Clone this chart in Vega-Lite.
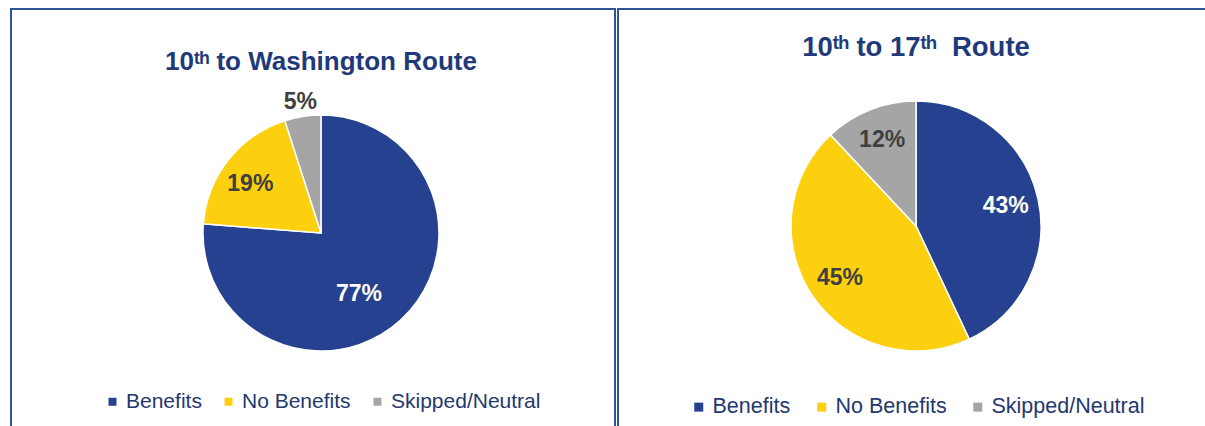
{
  "$schema": "https://vega.github.io/schema/vega-lite/v6.json",
  "background": "white",
  "padding": {"left": 10, "top": 8, "right": 0, "bottom": 0},
  "spacing": 1,
  "data": {"values": [
    {"route": "W", "cat": "Benefits", "share": 0.77},
    {"route": "W", "cat": "No Benefits", "share": 0.19},
    {"route": "W", "cat": "Skipped/Neutral", "share": 0.05},
    {"route": "S", "cat": "Benefits", "share": 0.43},
    {"route": "S", "cat": "No Benefits", "share": 0.45},
    {"route": "S", "cat": "Skipped/Neutral", "share": 0.12}
  ]},
  "config": {
    "view": {"stroke": "#2F5597", "strokeWidth": 2},
    "font": "Liberation Sans",
    "title": {"fontSize": 26, "font": "Liberation Sans", "fontWeight": "bold", "color": "#1F3A7A", "anchor": "middle", "frame": "group", "baseline": "alphabetic"},
    "legend": {"padding": 0, "symbolType": "square", "labelFont": "Liberation Sans", "labelColor": "#24386E", "labelOffset": 3, "columnPadding": 20, "symbolStrokeWidth": 0, "labelLimit": 300}
  },
  "resolve": {"scale": {"color": "independent", "theta": "independent"}, "legend": {"color": "independent"}},
  "hconcat": [
    {
      "width": 604,
      "height": 440,
      "view": {"stroke": "#2F5597", "strokeWidth": 2},
      "title": {"text": "10ᵗʰ to Washington Route", "offset": -66, "dx": 8},
      "transform": [{"filter": "datum.route === 'W'"}],
      "encoding": {
        "theta": {"field": "share", "type": "quantitative", "stack": true},
        "order": {"field": "cat", "type": "ordinal", "sort": "ascending"}
      },
      "layer": [
        {
          "mark": {"type": "arc", "radius": 118, "stroke": "white", "strokeWidth": 1.5, "xOffset": 8, "yOffset": 4},
          "encoding": {
            "color": {
              "field": "cat", "type": "nominal",
              "scale": {"domain": ["Benefits", "No Benefits", "Skipped/Neutral"], "range": ["#26418F", "#FCD00F", "#A5A5A5"]},
              "legend": {"orient": "none", "legendX": 91, "legendY": 382, "direction": "horizontal", "title": null, "labelFontSize": 21, "symbolSize": 64, "columnPadding": 16}
            }
          }
        },
        {
          "mark": {"type": "text", "radius": 72, "xOffset": -3, "yOffset": 12, "fontSize": 23, "fontWeight": "bold", "color": "white"},
          "encoding": {
            "text": {"field": "share", "format": ".0%"},
            "opacity": {"condition": {"test": "datum.cat === 'Benefits'", "value": 1}, "value": 0}
          }
        },
        {
          "mark": {"type": "text", "radius": 85, "xOffset": 4, "yOffset": 8, "fontSize": 23, "fontWeight": "bold", "color": "#404040"},
          "encoding": {
            "text": {"field": "share", "format": ".0%"},
            "opacity": {"condition": {"test": "datum.cat === 'No Benefits'", "value": 1}, "value": 0}
          }
        },
        {
          "mark": {"type": "text", "radius": 133, "xOffset": 8, "yOffset": 4, "fontSize": 23, "fontWeight": "bold", "color": "#404040"},
          "encoding": {
            "text": {"field": "share", "format": ".0%"},
            "opacity": {"condition": {"test": "datum.cat === 'Skipped/Neutral'", "value": 1}, "value": 0}
          }
        }
      ]
    },
    {
      "width": 600,
      "height": 440,
      "view": {"stroke": "#2F5597", "strokeWidth": 2},
      "title": {"text": "10ᵗʰ to 17ᵗʰ\u00a0 Route", "offset": -52, "dx": -2, "fontSize": 27.5},
      "transform": [{"filter": "datum.route === 'S'"}],
      "encoding": {
        "theta": {"field": "share", "type": "quantitative", "stack": true},
        "order": {"field": "cat", "type": "ordinal", "sort": "ascending"}
      },
      "layer": [
        {
          "mark": {"type": "arc", "radius": 125, "stroke": "white", "strokeWidth": 1.5, "xOffset": -2, "yOffset": -3},
          "encoding": {
            "color": {
              "field": "cat", "type": "nominal",
              "scale": {"domain": ["Benefits", "No Benefits", "Skipped/Neutral"], "range": ["#26418F", "#FCD00F", "#A5A5A5"]},
              "legend": {"orient": "none", "legendX": 70, "legendY": 387, "direction": "horizontal", "title": null, "labelFontSize": 21.5, "symbolSize": 81}
            }
          }
        },
        {
          "mark": {"type": "text", "radius": 92, "xOffset": -2, "yOffset": -3, "fontSize": 23, "fontWeight": "bold"},
          "encoding": {
            "text": {"field": "share", "format": ".0%"},
            "color": {"condition": {"test": "datum.cat === 'Benefits'", "value": "white"}, "value": "#404040"}
          }
        }
      ]
    }
  ]
}
